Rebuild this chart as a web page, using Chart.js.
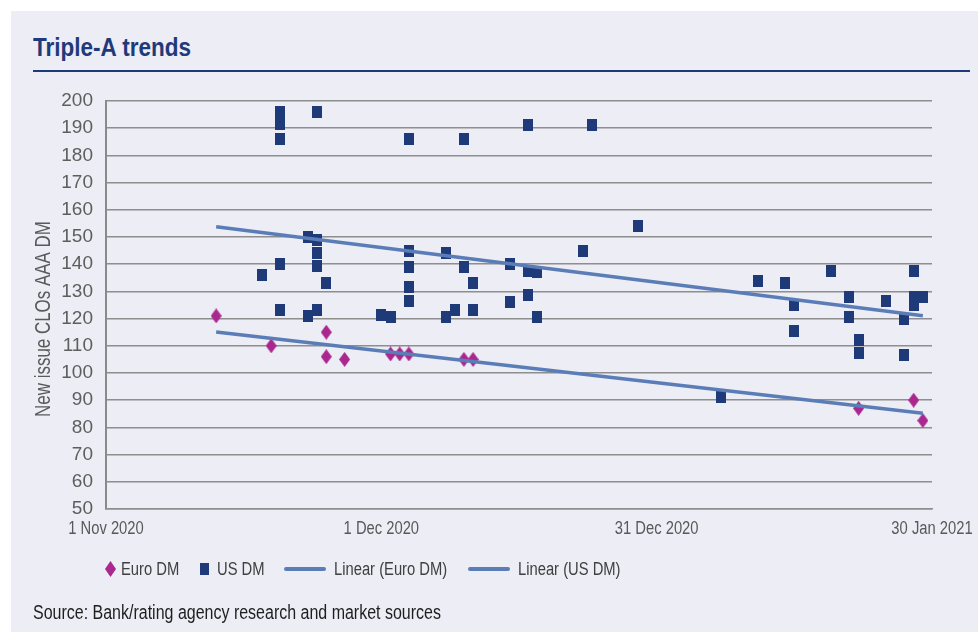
<!DOCTYPE html>
<html>
<head>
<meta charset="utf-8">
<title>Triple-A trends</title>
<script src="https://cdn.jsdelivr.net/npm/chart.js@4.4.1/dist/chart.umd.min.js"></script>
<style>
  html, body { margin: 0; padding: 0; background: #ffffff; }
  body { width: 978px; height: 636px; position: relative; overflow: hidden;
         font-family: 'Liberation Sans', Arial, sans-serif; }
  #panel { position: absolute; left: 11px; top: 11px; right: 0; bottom: 4px; background: #ecedf5; }
  .narrow { display: inline-block; transform: scaleX(0.82); transform-origin: 0 50%; white-space: nowrap; }
  #title { position: absolute; left: 33px; top: 33px; margin: 0; font-weight: bold; font-size: 25px;
           color: #1f3a7a; line-height: 28px; transform: scaleX(0.9); transform-origin: 0 50%; white-space: nowrap; }
  #rule { position: absolute; left: 33px; top: 70px; width: 937px; height: 2px; background: #1f3a7a; }
  #chart { position: absolute; left: 0; top: 0; }
  #legend { position: absolute; left: 0; top: 558px; width: 978px; height: 22px; font-size: 18px; color: #404040; }
  #legend .mark, #legend .label { position: absolute; top: 50%; transform-origin: 0 50%; }
  #legend .mark { transform: translateY(-50%); display: block; }
  #legend .label { transform: translateY(-50%) scaleX(0.82); line-height: 22px; white-space: nowrap; }
  #source { position: absolute; left: 33px; top: 600px; font-size: 19.5px; line-height: 24px; color: #1e1e1e; }
</style>
</head>
<body>
<div id="panel"></div>
<h1 id="title">Triple-A trends</h1>
<div id="rule"></div>
<canvas id="chart" width="978" height="636"></canvas>
<div id="legend"></div>
<div id="source"><span class="narrow">Source: Bank/rating agency research and market sources</span></div>
<script>
// ---- data ----------------------------------------------------------------
const xTickLabels = ['1 Nov 2020', '1 Dec 2020', '31 Dec 2020', '30 Jan 2021'];
const yAxisTitle = 'New issue CLOs AAA DM';

const euroDates = [
  '2020-11-13', '2020-11-19', '2020-11-25', '2020-11-25', '2020-11-27',
  '2020-12-02', '2020-12-03', '2020-12-04', '2020-12-10', '2020-12-11',
  '2021-01-22', '2021-01-28', '2021-01-29'
];
const euroValues = [121, 110, 115, 106, 105, 107, 107, 107, 105, 105, 87, 90, 82.5];

const usDates = [
  '2020-11-18',
  '2020-11-20', '2020-11-20', '2020-11-20', '2020-11-20', '2020-11-20',
  '2020-11-23', '2020-11-23',
  '2020-11-24', '2020-11-24', '2020-11-24', '2020-11-24', '2020-11-24',
  '2020-11-25',
  '2020-12-01', '2020-12-02',
  '2020-12-04', '2020-12-04', '2020-12-04', '2020-12-04', '2020-12-04',
  '2020-12-08', '2020-12-08', '2020-12-09',
  '2020-12-10', '2020-12-10', '2020-12-11', '2020-12-11',
  '2020-12-15', '2020-12-15',
  '2020-12-17', '2020-12-17', '2020-12-17', '2020-12-18', '2020-12-18',
  '2020-12-23', '2020-12-24', '2020-12-29',
  '2021-01-07', '2021-01-11', '2021-01-14', '2021-01-15', '2021-01-15',
  '2021-01-19', '2021-01-21', '2021-01-21', '2021-01-22', '2021-01-22',
  '2021-01-25', '2021-01-27', '2021-01-27',
  '2021-01-28', '2021-01-28', '2021-01-28', '2021-01-29'
];
const usValues = [
  136,
  196, 191.5, 186, 140, 123,
  150, 121,
  196, 149, 144, 139.5, 123,
  133,
  121.5, 120.5,
  186, 145, 139, 131.5, 126.5,
  144, 120.5, 123,
  186, 139, 133, 123,
  140, 126,
  191, 137.5, 128.5, 137, 120.5,
  145, 191, 154,
  91, 134, 133, 125, 115.5,
  137.5, 128, 120.5, 112, 107.5,
  126.5, 120, 106.5,
  137.5, 128, 125, 128
];

const seriesLabels = ['Euro DM', 'US DM', 'Linear (Euro DM)', 'Linear (US DM)'];

// ---- helpers -------------------------------------------------------------
const DAY_MS = 86400000;
const axisStart = Date.parse('2020-11-01');
const toDay = d => (Date.parse(d) - axisStart) / DAY_MS;

const toPoints = (dates, values) => dates.map((d, i) => ({ x: toDay(d), y: values[i] }));

// ordinary least squares fit, as used by a linear trendline
function linearFit(points) {
  const n = points.length;
  const mx = points.reduce((s, p) => s + p.x, 0) / n;
  const my = points.reduce((s, p) => s + p.y, 0) / n;
  let sxy = 0, sxx = 0;
  points.forEach(p => { sxy += (p.x - mx) * (p.y - my); sxx += (p.x - mx) ** 2; });
  const slope = sxy / sxx;
  return x => my + slope * (x - mx);
}

const euroPoints = toPoints(euroDates, euroValues);
const usPoints = toPoints(usDates, usValues);
const allX = euroPoints.concat(usPoints).map(p => p.x);
const xFrom = Math.min(...allX), xTo = Math.max(...allX);
const euroFit = linearFit(euroPoints), usFit = linearFit(usPoints);
const euroTrend = [{ x: xFrom, y: euroFit(xFrom) }, { x: xTo, y: euroFit(xTo) }];
const usTrend = [{ x: xFrom, y: usFit(xFrom) }, { x: xTo, y: usFit(xTo) }];

// ---- styling -------------------------------------------------------------
const EURO_COLOR = '#a9278f';
const US_COLOR = '#1f3a78';
const TREND_COLOR = '#5b7db7';
const GRID_COLOR = '#8e8e8e';
const SANS = "'Liberation Sans', Arial, sans-serif";
const CONDENSE = 0.82;

function makeMarker(w, h, color, shape) {
  const c = document.createElement('canvas');
  c.width = w; c.height = h;
  const g = c.getContext('2d');
  g.fillStyle = color;
  if (shape === 'diamond') {
    g.beginPath();
    g.moveTo(w / 2, 0); g.lineTo(w, h / 2); g.lineTo(w / 2, h); g.lineTo(0, h / 2);
    g.closePath(); g.fill();
  } else {
    g.fillRect(0, 0, w, h);
  }
  return c;
}
const diamondMark = makeMarker(11, 15, EURO_COLOR, 'diamond');
const squareMark = makeMarker(10, 12, US_COLOR, 'rect');

// text drawn with a horizontal squeeze, giving a condensed face
function condensedText(ctx, text, x, y, size, color, squeeze, rotate) {
  ctx.save();
  ctx.translate(x, y);
  if (rotate) ctx.rotate(rotate);
  ctx.scale(squeeze, 1);
  ctx.font = size + 'px ' + SANS;
  ctx.fillStyle = color;
  ctx.textAlign = 'center';
  ctx.textBaseline = 'middle';
  ctx.fillText(text, 0, 0);
  ctx.restore();
}

// date labels under the x axis and the rotated y-axis caption
const axisText = {
  id: 'axisText',
  afterDraw(chart) {
    const { ctx, chartArea, scales } = chart;
    scales.x.ticks.forEach((t, i) => {
      condensedText(ctx, xTickLabels[i], scales.x.getPixelForValue(t.value), chartArea.bottom + 20,
                    18, '#595959', CONDENSE, 0);
    });
    condensedText(ctx, yAxisTitle, 43.5, chartArea.bottom - 190, 22, '#5a5a5a', 0.77, -Math.PI / 2);
  }
};

const chart = new Chart(document.getElementById('chart'), {
  type: 'scatter',
  data: {
    datasets: [
      { label: seriesLabels[0], data: euroPoints, pointStyle: diamondMark, backgroundColor: EURO_COLOR,
        borderColor: EURO_COLOR, order: 2 },
      { label: seriesLabels[1], data: usPoints, pointStyle: squareMark, backgroundColor: US_COLOR,
        borderColor: US_COLOR, order: 3 },
      { label: seriesLabels[2], data: euroTrend, showLine: true, pointRadius: 0, borderColor: TREND_COLOR,
        borderWidth: 3.5, order: 1 },
      { label: seriesLabels[3], data: usTrend, showLine: true, pointRadius: 0, borderColor: TREND_COLOR,
        borderWidth: 3.5, order: 1 }
    ]
  },
  options: {
    responsive: false,
    animation: false,
    events: [],
    layout: { padding: { left: 0, top: 101, right: 46, bottom: 87 } },
    plugins: { legend: { display: false }, tooltip: { enabled: false } },
    scales: {
      x: {
        type: 'linear', min: 0, max: 90,
        afterFit(s) { s.height = 40; },
        grid: { display: false, drawTicks: false },
        border: { display: true, color: GRID_COLOR, width: 1.5 },
        ticks: { stepSize: 30, autoSkip: false, maxRotation: 0, display: false }
      },
      y: {
        min: 50, max: 200,
        afterFit(s) { s.width = 106; },
        grid: { color: GRID_COLOR, lineWidth: 1.5, drawTicks: false },
        border: { display: true, color: '#8a8a8a', width: 2 },
        ticks: {
          stepSize: 10, padding: 13, color: '#5e5e5e',
          font: { family: SANS, size: 19 }
        }
      }
    }
  },
  plugins: [axisText]
});

// ---- legend --------------------------------------------------------------
function legendMark(kind) {
  const ns = 'http://www.w3.org/2000/svg';
  const svg = document.createElementNS(ns, 'svg');
  let shape;
  if (kind === 'diamond') {
    svg.setAttribute('width', 11); svg.setAttribute('height', 16);
    shape = document.createElementNS(ns, 'polygon');
    shape.setAttribute('points', '5.5,0 11,8 5.5,16 0,8');
    shape.setAttribute('fill', EURO_COLOR);
  } else if (kind === 'square') {
    svg.setAttribute('width', 9); svg.setAttribute('height', 12);
    shape = document.createElementNS(ns, 'rect');
    shape.setAttribute('width', 9); shape.setAttribute('height', 12);
    shape.setAttribute('fill', US_COLOR);
  } else {
    svg.setAttribute('width', 42); svg.setAttribute('height', 6);
    shape = document.createElementNS(ns, 'rect');
    shape.setAttribute('y', 1); shape.setAttribute('width', 42); shape.setAttribute('height', 4);
    shape.setAttribute('rx', 2);
    shape.setAttribute('fill', TREND_COLOR);
  }
  svg.appendChild(shape);
  svg.setAttribute('class', 'mark');
  return svg;
}
const legendKinds = ['diamond', 'square', 'line', 'line'];
const legendMarkX = [105, 200, 284, 468];
const legendTextX = [121, 217, 334, 518];
const legendEl = document.getElementById('legend');
chart.data.datasets.forEach((ds, i) => {
  const mark = legendMark(legendKinds[i]);
  mark.style.left = legendMarkX[i] + 'px';
  legendEl.appendChild(mark);
  const text = document.createElement('span');
  text.className = 'label';
  text.style.left = legendTextX[i] + 'px';
  text.textContent = ds.label;
  legendEl.appendChild(text);
});
</script>
</body>
</html>
